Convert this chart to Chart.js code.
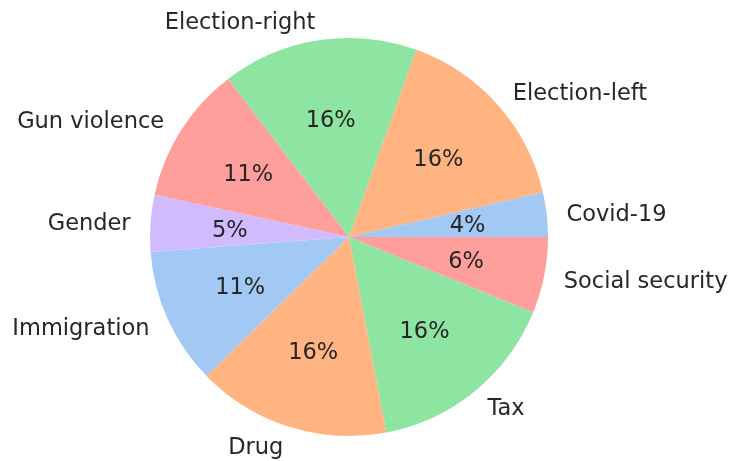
<!DOCTYPE html>
<html>
<head>
<meta charset="utf-8">
<title>Topics</title>
<script src="https://cdn.jsdelivr.net/npm/chart.js@4/dist/chart.umd.min.js"></script>
<style>
  html, body { margin: 0; padding: 0; background: #fff; }
  #myChart { display: block; }
</style>
</head>
<body>
<canvas id="myChart" width="729" height="461"></canvas>
<script>
  // slices in counter-clockwise order, starting at 3 o'clock
  var categories = ['Covid-19', 'Election-left', 'Election-right', 'Gun violence', 'Gender',
                    'Immigration', 'Drug', 'Tax', 'Social security'];
  var shares = [3.6, 15.9, 15.9, 11.2, 4.6, 11.1, 15.7, 15.8, 6.2];
  var palette = ['#a1c9f4', '#ffb482', '#8de5a1', '#ff9f9b', '#d0bbff'];

  var colors = categories.map(function (c, i) { return palette[i % palette.length]; });
  var total = shares.reduce(function (a, b) { return a + b; }, 0);

  // chart.js goes clockwise, so feed it reversed and start at 3 o'clock
  var data = {
    labels: categories.slice().reverse(),
    datasets: [{
      data: shares.slice().reverse(),
      backgroundColor: colors.slice().reverse(),
      borderWidth: 0
    }]
  };

  var FONT_SIZE = 22.5;

  var sliceLabels = {
    id: 'sliceLabels',
    afterDatasetsDraw: function (chart) {
      var ctx = chart.ctx;
      var meta = chart.getDatasetMeta(0);
      var vals = chart.data.datasets[0].data;
      // baseline offset so the cap height sits centred on the anchor
      var dy = FONT_SIZE * 0.365;
      ctx.save();
      ctx.font = FONT_SIZE + 'px "DejaVu Sans"';
      ctx.fillStyle = '#262626';
      ctx.textBaseline = 'alphabetic';
      meta.data.forEach(function (arc, i) {
        var mid = (arc.startAngle + arc.endAngle) / 2;
        var r = arc.outerRadius;
        var cx = Math.cos(mid), cy = Math.sin(mid);
        // percentage inside
        ctx.textAlign = 'center';
        ctx.fillText(Math.round(vals[i] / total * 100) + '%', arc.x + cx * r * 0.6, arc.y + cy * r * 0.6 + dy);
        // category outside
        ctx.textAlign = cx > 0 ? 'left' : 'right';
        ctx.fillText(chart.data.labels[i], arc.x + cx * r * 1.1, arc.y + cy * r * 1.1 + dy);
      });
      ctx.restore();
    }
  };

  var ctx = document.getElementById('myChart').getContext('2d');
  var pieChart = new Chart(ctx, {
    type: 'pie',
    data: data,
    options: {
      responsive: false,
      animation: false,
      rotation: 90,
      layout: { padding: { left: 100, right: 131, top: 38, bottom: 25 } },
      plugins: {
        legend: { display: false },
        tooltip: { enabled: false }
      }
    },
    plugins: [sliceLabels]
  });
</script>
</body>
</html>
